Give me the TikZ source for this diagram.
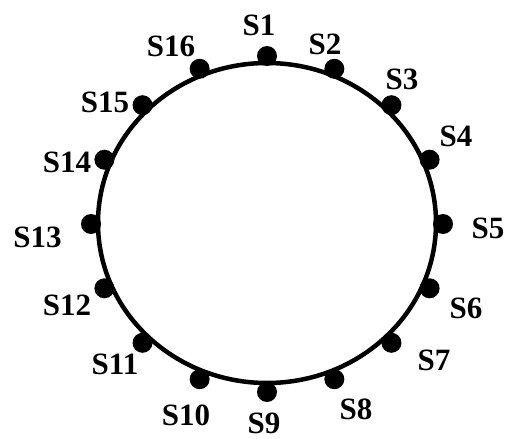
\documentclass[tikz,border=0pt]{standalone}
\usepackage{fontspec}
\setmainfont{Liberation Serif}
\begin{document}
\begin{tikzpicture}[x=1pt,y=-1pt,
  ring/.style={line width=4.5pt, draw=black},
  station/.style={circle, fill=black, inner sep=0pt, minimum size=20pt},
  lbl/.style={inner sep=0pt, font=\fontsize{31}{31}\selectfont\bfseries}]
\useasboundingbox[fill=white] (0,0) rectangle (506,439);
\draw[ring] (267,223) ellipse [x radius=169, y radius=160];
\foreach \i in {1,...,16} {
  \pgfmathsetmacro{\ang}{90-22.5*(\i-1)}
  \node[station] (s\i) at ({267+176*cos(\ang)},{224-168*sin(\ang)}) {};
}
\node[lbl] (l1)  at (259,25)  {S1};
\node[lbl] (l2)  at (325,44)  {S2};
\node[lbl] (l3)  at (402,79)  {S3};
\node[lbl] (l4)  at (456,136) {S4};
\node[lbl] (l5)  at (488,228) {S5};
\node[lbl] (l6)  at (466,308) {S6};
\node[lbl] (l7)  at (434,360) {S7};
\node[lbl] (l8)  at (356,409) {S8};
\node[lbl] (l9)  at (264,423) {S9};
\node[lbl] (l10) at (186,415) {S10};
\node[lbl] (l11) at (115,364) {S11};
\node[lbl] (l12) at (67,305)  {S12};
\node[lbl] (l13) at (37.5,237) {S13};
\node[lbl] (l14) at (67,162)  {S14};
\node[lbl] (l15) at (105,102) {S15};
\node[lbl] (l16) at (171,46)  {S16};
\end{tikzpicture}
\end{document}
